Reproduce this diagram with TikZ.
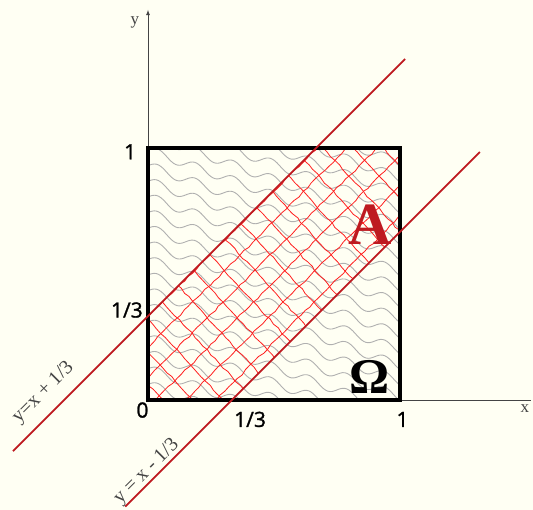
\documentclass[tikz,border=0pt]{standalone}
\usepackage{fontspec}
\newfontfamily\numfont[FakeBold=1.2]{Open Sans}
\newfontfamily\libser{Liberation Serif}
\usetikzlibrary{decorations.pathmorphing}
\definecolor{bgc}{HTML}{FFFFF3}
\definecolor{linered}{HTML}{BE1A20}
\definecolor{netred}{HTML}{FF2020}
\definecolor{wavegray}{HTML}{B0B0B0}
\definecolor{txtgray}{HTML}{444444}
\tikzset{
  numlbl/.style={font=\numfont\fontsize{21}{21}\selectfont, text=black, inner sep=0pt},
  axislbl/.style={font=\libser\fontsize{17}{17}\selectfont, text=txtgray, inner sep=0pt},
  eqlbl/.style={font=\libser\fontsize{20}{20}\selectfont, text=txtgray, inner sep=0pt, rotate=45},
  bandline/.style={draw=linered, line width=1.7pt},
  wave/.style={draw=wavegray, line width=0.9pt},
  net/.style={draw=netred, line width=0.8pt, decorate, decoration={random steps, segment length=6pt, amplitude=0.8pt}},
  axis/.style={draw=txtgray, line width=0.8pt}
}
\begin{document}
\begin{tikzpicture}[x=252pt,y=252pt]
\pgfmathsetseed{7}
\fill[bgc] (-0.5873,-0.4365) rectangle (1.5278,1.5873);
\useasboundingbox (-0.5873,-0.4365) rectangle (1.5278,1.5873);
% axes
\coordinate (O) at (0,0);
\coordinate (ytop) at (0,1.548);
\coordinate (xend) at (1.52,0);
\draw[axis,-latex] (O) -- (ytop);
\draw[axis] (O) -- (xend);
% wavy background in square
\begin{scope}
\clip (0,0) rectangle (1,1);
\foreach \k in {0,...,26} {
  \draw[wave] plot[domain=0:1, samples=120, smooth] (\x, {\k*0.062 - 0.36*\x + 0.018*sin(\x*2400)});
}
\end{scope}
% red net in band A
\begin{scope}
\clip (0,0) -- (0,1/3) -- (2/3,1) -- (1,1) -- (1,2/3) -- (1/3,0) -- cycle;
\foreach \c in {-0.33,-0.21,...,0.4} {
  \draw[net] ({-0.1+\c},-0.1) -- ({1.1+\c},1.1);
}
\foreach \c in {0.03,0.15,...,2.1} {
  \draw[net] ({\c+0.12},-0.1) -- ({\c-1.08},1.2);
}
\end{scope}
% square Omega
\draw[line width=3.4pt, line join=miter] (0,0) rectangle (1,1);
% band lines
\coordinate (L1a) at (-0.536,-0.203);
\coordinate (L1b) at (1.02,1.353);
\coordinate (L2a) at (-0.09,-0.423);
\coordinate (L2b) at (1.317,0.984);
\draw[bandline] (L1a) -- (L1b);
\draw[bandline] (L2a) -- (L2b);
% labels
\node[axislbl] (ylbl) at (-0.052,1.5) {y};
\node[axislbl] (xlbl) at (1.496,-0.035) {x};
\node[numlbl] (one-y) at (-0.071,0.985) {1};
\node[numlbl, anchor=east] (third-y) at (-0.02,0.357) {1/3};
\node[numlbl] (zero) at (-0.022,-0.04) {0};
\node[numlbl] (third-x) at (0.405,-0.077) {1/3};
\node[numlbl] (one-x) at (1.01,-0.077) {1};
\node[font=\libser\bfseries\fontsize{50}{50}\selectfont, inner sep=0pt] (omega) at (0.88,0.09) {Ω};
\node[font=\libser\bfseries\fontsize{60}{60}\selectfont, text=linered, inner sep=0pt] (A) at (0.88,0.694) {A};
\node[eqlbl] (eq1) at (-0.415,0.03) {y=x + 1/3};
\node[eqlbl] (eq2) at (-0.005,-0.284) {y = x - 1/3};
\end{tikzpicture}
\end{document}
